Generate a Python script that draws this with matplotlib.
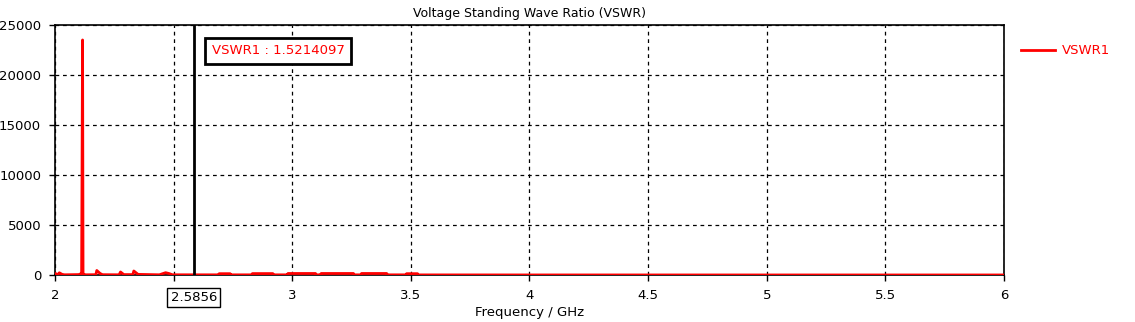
import matplotlib.pyplot as plt

# sweep data (GHz, VSWR)
freq = [2.000, 2.012, 2.018, 2.030, 2.040, 2.100, 2.108, 2.112, 2.116, 2.118, 2.121,
        2.130, 2.172, 2.176, 2.190, 2.200, 2.270, 2.276, 2.290, 2.328, 2.332, 2.350,
        2.440, 2.452, 2.466, 2.480, 2.495, 2.690, 2.692, 2.738, 2.740, 2.830, 2.832,
        2.918, 2.920, 2.980, 2.982, 3.098, 3.100, 3.120, 3.122, 3.258, 3.260, 3.290,
        3.292, 3.398, 3.400, 3.480, 3.482, 3.528, 3.530, 4.000, 5.000, 6.000]
vswr = [150, 40, 220, 60, 20, 40, 120, 80, 23500, 120, 60,
        20, 30, 450, 150, 30, 20, 300, 40, 40, 400, 60,
        20, 120, 230, 150, 20, 15, 130, 130, 15, 15, 140,
        140, 15, 15, 150, 150, 15, 15, 150, 150, 15, 15,
        150, 150, 15, 15, 130, 130, 10, 5, 3, 2]

marker_f = 2.5856
marker_val = 1.5214097
xticks = [2, 2.5, 3, 3.5, 4, 4.5, 5, 5.5, 6]
yticks = [0, 5000, 10000, 15000, 20000, 25000]

fig = plt.figure(figsize=(11.35, 3.22), dpi=100)
ax = fig.add_axes([0.0485, 0.146, 0.836, 0.7765])

ax.plot(freq, vswr, color='red', lw=2, label='VSWR1', zorder=3)
ax.axvline(marker_f, color='black', lw=2, zorder=4)

ax.set_xlim(2, 6)
ax.set_ylim(0, 25000)
ax.set_xticks(xticks)
ax.set_xticklabels(['2', '', '3', '3.5', '4', '4.5', '5', '5.5', '6'])
ax.set_yticks(yticks)
ax.grid(True, color='black', ls=(0, (3, 3)), lw=0.9)
ax.tick_params(direction='out', length=4, width=1, labelsize=9.5, pad=6)
for s in ax.spines.values():
    s.set_linewidth(1.2)

ax.set_title('Voltage Standing Wave Ratio (VSWR)', fontsize=9, pad=6)
ax.set_xlabel('Frequency / GHz', fontsize=9.5, labelpad=3)

# marker readouts
ax.text(marker_f, -1600, '%.4f' % marker_f, ha='center', va='top', fontsize=9.5,
        bbox=dict(boxstyle='square,pad=0.25', fc='white', ec='black', lw=1))
ax.text(2.66, 22400, 'VSWR1 : %.7f' % marker_val, color='red', fontsize=9.5,
        ha='left', va='center', zorder=5,
        bbox=dict(boxstyle='square,pad=0.5', fc='white', ec='black', lw=2))

ax.legend(loc='upper left', bbox_to_anchor=(1.005, 0.97), frameon=False,
          fontsize=9.5, handlelength=2.6, handletextpad=0.5, labelcolor='red')

fig.savefig('out.png', dpi=100)
